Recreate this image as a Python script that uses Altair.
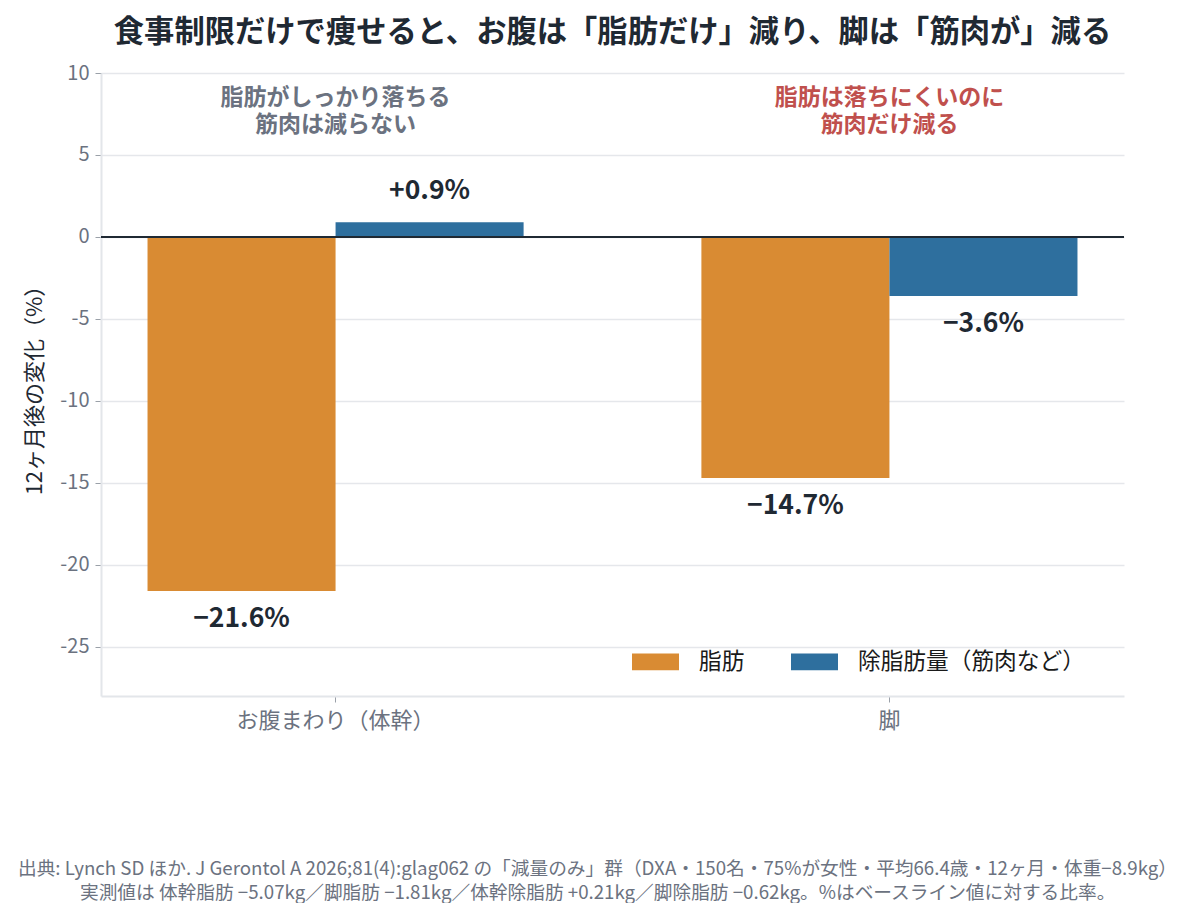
import altair as alt
import pandas as pd

FONT = "Noto Sans CJK JP"

regions = ["お腹まわり（体幹）", "脚"]
series = ["脂肪", "除脂肪量（筋肉など）"]
fat_change = [-21.6, -14.7]
lean_change = [0.9, -3.6]
series_colors = ["#d98b33", "#2e6f9e"]

notes = ["脂肪がしっかり落ちる\n筋肉は減らない", "脂肪は落ちにくいのに\n筋肉だけ減る"]
note_colors = ["#6b7280", "#c0504d"]

title_text = "食事制限だけで痩せると、お腹は「脂肪だけ」減り、脚は「筋肉が」減る"
footer_lines = [
    "出典: Lynch SD ほか. J Gerontol A 2026;81(4):glag062 の「減量のみ」群（DXA・150名・75%が女性・平均66.4歳・12ヶ月・体重−8.9kg）",
    "実測値は 体幹脂肪 −5.07kg／脚脂肪 −1.81kg／体幹除脂肪 +0.21kg／脚除脂肪 −0.62kg。%はベースライン値に対する比率。",
]
footer_left = [-83, -21]

W, H = 1023, 623

rows = []
for i, r in enumerate(regions):
    rows.append({"region": r, "series": series[0], "value": fat_change[i]})
    rows.append({"region": r, "series": series[1], "value": lean_change[i]})
df = pd.DataFrame(rows)

note_df = pd.DataFrame({"region": regions, "note": notes, "color": note_colors, "y": [8.48, 8.48]})

x_enc = alt.X("region:N", sort=regions, title=None,
              scale=alt.Scale(paddingInner=0.321, paddingOuter=0.084),
              axis=alt.Axis(labelAngle=0, labelFontSize=22, labelColor="#6b7280", labelLimit=0,
                            labelPadding=8, tickColor="#9aa0a8", tickSize=6,
                            domainColor="#e3e6ea", domainWidth=2, grid=False))
y_scale = alt.Scale(domain=[-28, 10], nice=False, zero=False)
offset_enc = alt.XOffset("series:N", sort=series,
                         scale=alt.Scale(paddingInner=0, paddingOuter=0))

base = alt.Chart(df).transform_calculate(
    label="(datum.value > 0 ? '+' : '−') + format(abs(datum.value), '.1f') + '%'"
)

bars = base.mark_bar().encode(
    x=x_enc,
    xOffset=offset_enc,
    y=alt.Y("value:Q", scale=y_scale, title="12ヶ月後の変化（%）",
            axis=alt.Axis(values=[-25, -20, -15, -10, -5, 0, 5, 10],
                          labelExpr="toString(datum.value)",
                          labelFontSize=20, labelColor="#6b7280", labelPadding=6,
                          tickColor="#9aa0a8", tickSize=6,
                          domainColor="#e3e6ea", domainWidth=2,
                          gridColor="#e5e7eb", gridWidth=1.5,
                          titleFontSize=22, titleColor="#1f2933", titleFontWeight="normal",
                          titlePadding=13)),
    color=alt.Color("series:N", sort=series,
                    scale=alt.Scale(domain=series, range=series_colors),
                    legend=alt.Legend(title=None, orient="none", direction="horizontal",
                                      legendX=531, legendY=565,
                                      symbolType="M-1,-0.36H1V0.36H-1Z", symbolSize=2209,
                                      symbolStrokeWidth=0, symbolOpacity=1,
                                      labelFontSize=22.7, labelColor="#1a1a1a", labelLimit=0,
                                      labelOffset=20, columnPadding=46)),
)

pos_labels = base.transform_filter("datum.value > 0").mark_text(
    fontSize=26.5, fontWeight="bold", color="#1f2933", baseline="middle", dy=-31
).encode(x=alt.X("region:N", sort=regions), xOffset=offset_enc,
         y=alt.Y("value:Q", scale=y_scale), text="label:N")

neg_labels = base.transform_filter("datum.value < 0").mark_text(
    fontSize=26.5, fontWeight="bold", color="#1f2933", baseline="middle", dy=28
).encode(x=alt.X("region:N", sort=regions), xOffset=offset_enc,
         y=alt.Y("value:Q", scale=y_scale), text="label:N")

zero_rule = alt.Chart(df).mark_rule(color="#1f2933", strokeWidth=2).encode(y=alt.datum(0))

note_text = alt.Chart(note_df).mark_text(
    fontSize=23, fontWeight="bold", baseline="middle", lineBreak="\n", lineHeight=27
).encode(
    x=alt.X("region:N", sort=regions),
    y=alt.Y("y:Q", scale=y_scale),
    text="note:N",
    color=alt.Color("color:N", scale=None),
)

layers = [bars, zero_rule, pos_labels, neg_labels, note_text]

# footer lines sit below the plot, one text mark per line
for i, line in enumerate(footer_lines):
    layers.append(
        alt.Chart(pd.DataFrame({"line": [line]})).mark_text(
            fontSize=18.7, color="#6b7280", baseline="middle", align="left"
        ).encode(x=alt.value(footer_left[i]), y=alt.value(796 + 24 * i), text="line:N")
    )

chart = alt.layer(*layers).properties(
    width=W, height=H,
    padding={"left": 10, "top": 9, "right": 0, "bottom": 0},
    title=alt.TitleParams(title_text, fontSize=30.3, fontWeight="bold", color="#1f2933",
                          anchor="middle", frame="group", offset=15),
).configure(font=FONT).configure_view(stroke=None)

chart.save("out.html", embed_options={"renderer": "svg", "actions": False})
